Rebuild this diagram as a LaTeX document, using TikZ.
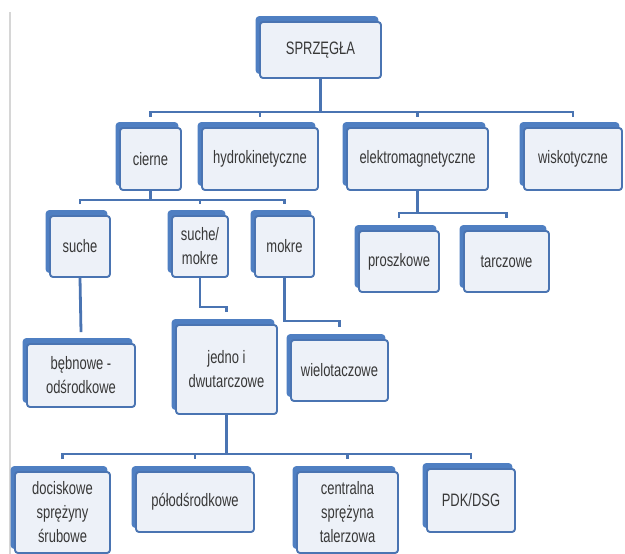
\documentclass[tikz,border=0pt]{standalone}
\usepackage{fontspec}
\setmainfont{Liberation Sans}[FakeStretch=0.72]
\usetikzlibrary{shadows,calc}
\definecolor{cardblue}{HTML}{4F7FC2}
\definecolor{edgeblue}{HTML}{4A74B2}
\definecolor{boxfill}{HTML}{EDF1F8}
\definecolor{txtgray}{HTML}{383838}
\definecolor{rulegray}{HTML}{D6D6D6}
\tikzset{
  cbox/.style={draw=edgeblue, line width=1.9pt, fill=boxfill, rounded corners=3pt,
    inner sep=0pt, align=center, text=txtgray,
    font=\fontsize{18}{24}\selectfont,
    copy shadow={shadow xshift=-3.5pt, shadow yshift=5pt, fill=cardblue, draw=cardblue}},
  conn/.style={draw=edgeblue, line width=2.8pt, line cap=butt, line join=miter}
}
\begin{document}
\begin{tikzpicture}[x=1pt,y=-1pt]
\useasboundingbox (0,0) rectangle (625,554);
\fill[white] (0,0) rectangle (625,554);
\draw[rulegray, line width=2pt] (10,12) -- (10,554);

% level 0
\node[cbox, minimum width=121pt, minimum height=56pt] (sprz) at (320.5,50) {SPRZĘGŁA};
% level 1
\node[cbox, minimum width=61pt, minimum height=62pt] (cierne) at (150.5,159) {cierne};
\node[cbox, minimum width=116pt, minimum height=62pt] (hydro) at (260,159) {hydrokinetyczne};
\node[cbox, minimum width=141pt, minimum height=62pt] (elektro) at (417.5,159) {elektromagnetyczne};
\node[cbox, minimum width=98pt, minimum height=62pt] (wisko) at (573,159) {wiskotyczne};
% level 2
\node[cbox, minimum width=60pt, minimum height=61pt] (suche) at (80,246.5) {suche};
\node[cbox, minimum width=56pt, minimum height=61pt] (sm) at (200,246.5) {suche/\\mokre};
\node[cbox, minimum width=59pt, minimum height=61pt] (mokre) at (284.5,246.5) {mokre};
\node[cbox, minimum width=80pt, minimum height=61pt] (proszk) at (399,261.5) {proszkowe};
\node[cbox, minimum width=85pt, minimum height=61pt] (tarcz) at (506.5,261.5) {tarczowe};
% level 3
\node[cbox, minimum width=108pt, minimum height=63pt] (bebn) at (81,375.5) {bębnowe -\\odśrodkowe};
\node[cbox, minimum width=101pt, minimum height=89pt] (jedno) at (226.5,369.5) {jedno i\\dwutarczowe};
\node[cbox, minimum width=97pt, minimum height=61pt] (wielo) at (339.5,370.5) {wielotaczowe};
% level 4
\node[cbox, minimum width=95pt, minimum height=81pt] (docisk) at (62.5,512.5) {dociskowe\\sprężyny\\śrubowe};
\node[cbox, minimum width=118pt, minimum height=60pt] (polod) at (195,502) {półodśrodkowe};
\node[cbox, minimum width=101pt, minimum height=81pt] (central) at (347.5,512.5) {centralna\\sprężyna\\talerzowa};
\node[cbox, minimum width=88pt, minimum height=63pt] (pdk) at (471,500.5) {PDK/DSG};

% connectors
\coordinate (b1) at (0,112);
\coordinate (b2) at (0,200);
\coordinate (b3) at (0,213);
\coordinate (b4) at (0,454);
\draw[conn] (sprz.south) -- (sprz.south |- b1);
\draw[conn] (cierne.north |- b1) ++(0,5) -- (cierne.north |- b1) -- (wisko.north |- b1) -- ++(0,5);
\draw[conn] (hydro.north |- b1) -- ++(0,5);
\draw[conn] (elektro.north |- b1) -- ++(0,5);

\draw[conn] (cierne.south) -- (cierne.south |- b2);
\draw[conn] (suche.north |- b2) ++(0,4) -- (suche.north |- b2) -- (mokre.north |- b2) -- ++(0,4);
\draw[conn] (sm.north |- b2) -- ++(0,4);

\draw[conn] (elektro.south) -- (elektro.south |- b3);
\draw[conn] (proszk.north |- b3) ++(0,5) -- (proszk.north |- b3) -- (tarcz.north |- b3) -- ++(0,5);

\draw[conn] (suche.south) -- ($(bebn.north)+(0,-11)$);
\draw[conn] (sm.south) |- ($(jedno.north)+(0,-17)$) -- ++(0,5);
\draw[conn] (mokre.south) |- ($(wielo.north)+(0,-18)$) -- ++(0,6);

\draw[conn] (jedno.south) -- (jedno.south |- b4);
\draw[conn] (docisk.north |- b4) ++(0,5) -- (docisk.north |- b4) -- (pdk.north |- b4) -- ++(0,5);
\draw[conn] (polod.north |- b4) -- ++(0,5);
\draw[conn] (central.north |- b4) -- ++(0,5);
\end{tikzpicture}
\end{document}
